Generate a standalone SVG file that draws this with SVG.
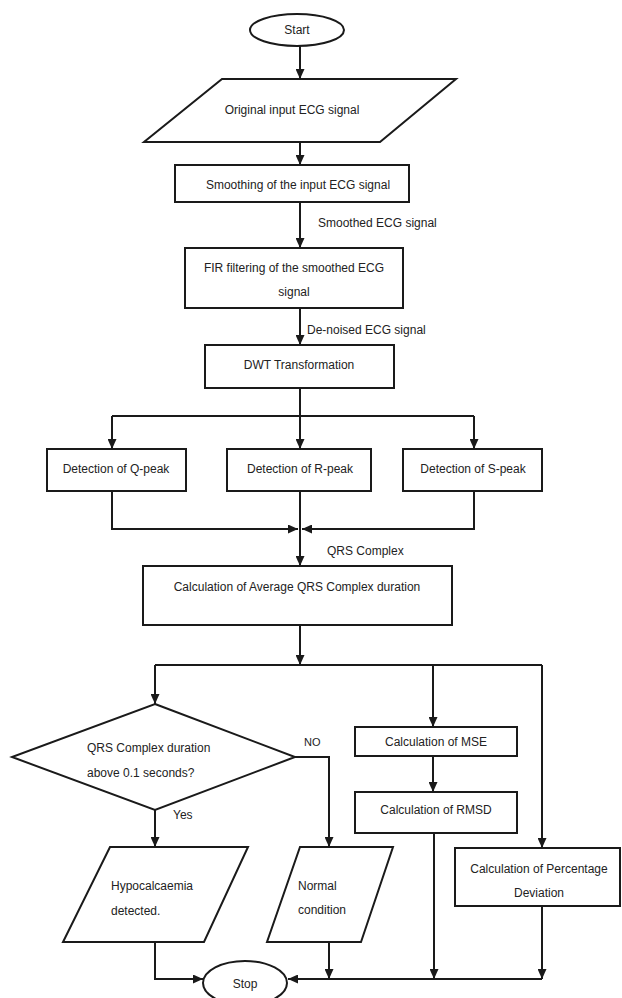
<svg xmlns="http://www.w3.org/2000/svg" width="622" height="998" viewBox="0 0 622 998">
<defs>
<style>
.s{fill:#fff;stroke:#1a1a1a;stroke-width:2}
.c{fill:none;stroke:#1a1a1a;stroke-width:2}
.t{font-family:"Liberation Sans",Arial,sans-serif;font-size:12px;fill:#222}
.m{text-anchor:middle}
</style>
<marker id="a" markerUnits="userSpaceOnUse" markerWidth="10" markerHeight="9" refX="10" refY="4.5" orient="auto">
<path d="M0,0 L10,4.5 L0,9 z" fill="#1a1a1a"/>
</marker>
</defs>
<rect width="622" height="998" fill="#fff"/>
<g id="connectors">
<path class="c" d="M300,46 V79" marker-end="url(#a)"/>
<path class="c" d="M300,142 V165" marker-end="url(#a)"/>
<path class="c" d="M300,202 V248" marker-end="url(#a)"/>
<path class="c" d="M300,308 V345" marker-end="url(#a)"/>
<path class="c" d="M300,388 V449" marker-end="url(#a)"/>
<path class="c" d="M112,416 H474"/>
<path class="c" d="M112,416 V449" marker-end="url(#a)"/>
<path class="c" d="M474,416 V449" marker-end="url(#a)"/>
<path class="c" d="M112,491 V529 H298" marker-end="url(#a)"/>
<path class="c" d="M474,491 V529 H302" marker-end="url(#a)"/>
<path class="c" d="M300,491 V566" marker-end="url(#a)"/>
<path class="c" d="M300,625 V665" marker-end="url(#a)"/>
<path class="c" d="M155,665 H542"/>
<path class="c" d="M155,665 V704" marker-end="url(#a)"/>
<path class="c" d="M433,665 V727" marker-end="url(#a)"/>
<path class="c" d="M542,665 V848" marker-end="url(#a)"/>
<path class="c" d="M433,756 V792" marker-end="url(#a)"/>
<path class="c" d="M295,757 H329 V847" marker-end="url(#a)"/>
<path class="c" d="M155,810 V847" marker-end="url(#a)"/>
<path class="c" d="M155,942 V979 H203" marker-end="url(#a)"/>
<path class="c" d="M329,942 V979" marker-end="url(#a)"/>
<path class="c" d="M434,833 V979" marker-end="url(#a)"/>
<path class="c" d="M542,906 V979" marker-end="url(#a)"/>
<path class="c" d="M542,979 H288" marker-end="url(#a)"/>
<text class="t" x="318" y="227">Smoothed ECG signal</text>
<text class="t" x="307" y="334">De-noised ECG signal</text>
<text class="t" x="327" y="555">QRS Complex</text>
<text class="t" x="304" y="746" style="font-size:11px">NO</text>
<text class="t" x="173" y="819">Yes</text>
</g>
<g id="start">
<ellipse class="s" cx="297" cy="30" rx="47" ry="16"/>
<text class="t m" x="297" y="34">Start</text>
</g>
<g id="input">
<polygon class="s" points="222,79 456,79 380,142 144,142"/>
<text class="t m" x="292" y="114">Original input ECG signal</text>
</g>
<g id="smoothing">
<rect class="s" x="175" y="165" width="234" height="37"/>
<text class="t m" x="298" y="189">Smoothing of the input ECG signal</text>
</g>
<g id="fir">
<rect class="s" x="185" y="248" width="218" height="60"/>
<text class="t m" x="294" y="272">FIR filtering of the smoothed ECG</text>
<text class="t m" x="294" y="296">signal</text>
</g>
<g id="dwt">
<rect class="s" x="205" y="345" width="189" height="43"/>
<text class="t m" x="299" y="369">DWT Transformation</text>
</g>
<g id="qpeak">
<rect class="s" x="47" y="449" width="139" height="42"/>
<text class="t m" x="116" y="473">Detection of Q-peak</text>
</g>
<g id="rpeak">
<rect class="s" x="227" y="449" width="144" height="42"/>
<text class="t m" x="300" y="473">Detection of R-peak</text>
</g>
<g id="speak">
<rect class="s" x="403" y="449" width="139" height="42"/>
<text class="t m" x="473" y="473">Detection of S-peak</text>
</g>
<g id="average">
<rect class="s" x="143" y="566" width="309" height="59"/>
<text class="t m" x="297" y="591">Calculation of Average  QRS Complex duration</text>
</g>
<g id="decision">
<polygon class="s" points="155,704 295,757 155,810 12,757"/>
<text class="t" x="87" y="752">QRS Complex duration</text>
<text class="t" x="87" y="777">above 0.1 seconds?</text>
</g>
<g id="mse">
<rect class="s" x="355" y="727" width="162" height="29"/>
<text class="t m" x="436" y="746">Calculation of MSE</text>
</g>
<g id="rmsd">
<rect class="s" x="355" y="792" width="162" height="41"/>
<text class="t m" x="436" y="814">Calculation of RMSD</text>
</g>
<g id="percentage">
<rect class="s" x="455" y="848" width="165" height="58"/>
<text class="t m" x="539" y="873">Calculation of Percentage</text>
<text class="t m" x="539" y="897">Deviation</text>
</g>
<g id="hypocalcaemia">
<polygon class="s" points="110,847 248,847 204,942 63,942"/>
<text class="t" x="111" y="890">Hypocalcaemia</text>
<text class="t" x="111" y="915">detected.</text>
</g>
<g id="normal">
<polygon class="s" points="300,847 393,847 361,942 267,942"/>
<text class="t" x="298" y="890">Normal</text>
<text class="t" x="298" y="914">condition</text>
</g>
<g id="stop">
<ellipse class="s" cx="245" cy="983" rx="42" ry="22"/>
<text class="t m" x="245" y="988">Stop</text>
</g>
</svg>
